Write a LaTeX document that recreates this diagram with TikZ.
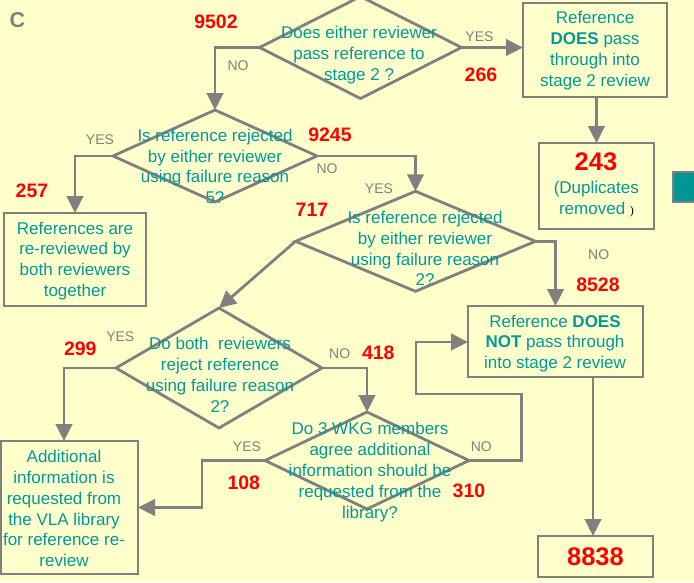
\documentclass[tikz,border=0pt]{standalone}
\usepackage{fontspec}
\setmainfont{Liberation Sans}
\newfontfamily\seriffam{Liberation Serif}
\usetikzlibrary{shapes.geometric,arrows.meta}
\definecolor{bg}{RGB}{255,255,204}
\definecolor{lgray}{RGB}{128,128,128}
\definecolor{tealtxt}{RGB}{0,153,153}
\definecolor{numred}{RGB}{255,0,0}
\definecolor{tealsq}{RGB}{0,150,150}
\begin{document}
\begin{tikzpicture}[x=1pt,y=-1pt,
  dia/.style={diamond, draw=lgray, line width=2.8pt, inner sep=0pt, outer sep=0pt},
  box/.style={rectangle, draw=lgray, line width=2.8pt, inner sep=0pt, outer sep=0pt},
  txt/.style={text=tealtxt, font=\fontsize{17}{20.8}\selectfont, align=center, inner sep=0pt},
  yn/.style={text=lgray, font=\fontsize{14}{16}\selectfont, inner sep=0pt},
  num/.style={text=numred, font=\fontsize{19.5}{22}\selectfont\bfseries, inner sep=0pt},
  bignum/.style={text=numred, font=\fontsize{25.5}{28}\selectfont\bfseries, inner sep=0pt},
  arr/.style={draw=lgray, line width=2.8pt, -{Triangle[length=17pt,width=16.5pt]}}]
\fill[bg] (0,0) rectangle (694,582);
\useasboundingbox (0,0) rectangle (694,582);
\clip (0,0) rectangle (694,582);

% title letter
\node[text=lgray, font=\fontsize{21.5}{24}\selectfont\bfseries, inner sep=0pt] (lc) at (17.5,20.5) {C};

% partially visible teal box at the right edge
\filldraw[fill=tealsq, draw=lgray, line width=1.5pt] (673,172) rectangle (700,202);

% decisions
\node[dia, minimum width=202pt, minimum height=102pt] (d1) at (360.5,47.5) {};
\node[dia, minimum width=204pt, minimum height=92pt]  (d2) at (215,156) {};
\node[dia, minimum width=240pt, minimum height=100pt] (d3) at (415.5,241.3) {};
\node[dia, minimum width=206pt, minimum height=120pt] (d4) at (219,368) {};
\node[dia, minimum width=204pt, minimum height=97pt]  (d5) at (367,460.5) {};

\node[txt] (d1t) at (359,55) {Does either reviewer\\pass reference to\\stage 2 ?};
\node[txt] (d2t) at (215,166.5) {Is reference rejected\\by either reviewer\\using failure reason\\5?};
\node[txt] (d3t) at (425,248.5) {Is reference rejected\\by either reviewer\\using failure reason\\2?};
\node[txt] (d4t) at (220,375) {Do both\ \ reviewers\\reject reference\\using failure reason\\2?};
\node[txt] (d5t) at (370,472) {Do 3 WKG members\\agree additional\\information should be\\requested from the\\library?};

% boxes
\node[box, minimum width=144pt, minimum height=94pt] (b1) at (595,50) {};
\node[box, minimum width=115pt, minimum height=86pt] (b2) at (596.5,186) {};
\node[box, minimum width=142pt, minimum height=93pt] (b3) at (75,259.5) {};
\node[box, minimum width=175pt, minimum height=71pt] (b4) at (555.5,341.5) {};
\node[box, minimum width=115pt, minimum height=41pt] (b5) at (595.5,556.5) {};
\node[box, minimum width=137pt, minimum height=133pt] (b6) at (69.5,507.5) {};

\node[txt] (b1t) at (595,50.7) {Reference\\\textbf{DOES} pass\\through into\\stage 2 review};
\node[bignum] (b2n) at (596,161.7) {243};
\node[txt] (b2t) at (596.3,188.8) {(Duplicates};
\node[txt] (b2u) at (596.5,210) {removed {\color{black}\seriffam\fontsize{12}{12}\selectfont )}};
\node[txt] (b3t) at (75,261) {References are\\re-reviewed by\\both reviewers\\together};
\node[txt] (b4t) at (555,343.5) {Reference \textbf{DOES}\\\textbf{NOT} pass through\\into stage 2 review};
\node[bignum] (b5n) at (595.5,556.5) {8838};
\node[txt] (b6t) at (64,508.6) {Additional\\information is\\requested from\\the VLA library\\for reference re-\\review};

% connectors
\draw[arr] (d1.west) -| (d2.north);
\draw[arr] (d1.east) -- (d1.east -| b1.west);
\draw[arr] (b2.north |- b1.south) -- (b2.north);
\draw[arr] (d2.west) -| (b3.north);
\draw[arr] (d2.east) -| (d3.north);
\draw[arr] (d3.west) -- (d4.north);
\draw[arr] (d3.east) -| (b4.north);
\coordinate (c4) at (64,0);
\draw[arr] (d4.west) -| (c4 |- b6.north);
\draw[arr] (d4.east) -| (d5.north);
\coordinate (c5) at (202,0);
\draw[arr] (d5.west) -| (c5 |- b6.east) -- (b6.east);
\coordinate (l1) at (521.7,394);
\coordinate (l2) at (416,342);
\draw[arr] (d5.east) -| (l1) -| (l2) -- (l2 -| b4.west);
\draw[arr] ([xshift=-2.5pt]b5.north |- b4.south) -- ([xshift=-2.5pt]b5.north);

% YES / NO labels
\node[yn] (y1) at (479.5,37) {YES};
\node[yn] (n1) at (238,66) {NO};
\node[yn] (y2) at (100,140) {YES};
\node[yn] (n2) at (327,169) {NO};
\node[yn] (y3) at (379,188.7) {YES};
\node[yn] (n3) at (598.7,255) {NO};
\node[yn] (y4) at (120.3,336.3) {YES};
\node[yn] (n4) at (339.7,353.3) {NO};
\node[yn] (y5) at (247,447) {YES};
\node[yn] (n5) at (481.3,447) {NO};

% counts
\node[num] (k9502) at (216,21.7) {9502};
\node[num] (k266) at (481,75) {266};
\node[num] (k9245) at (330,135) {9245};
\node[num] (k257) at (32,191.2) {257};
\node[num] (k717) at (312,209.3) {717};
\node[num] (k8528) at (598,285) {8528};
\node[num] (k299) at (80.3,348.7) {299};
\node[num] (k418) at (378.3,353) {418};
\node[num] (k108) at (243.8,483) {108};
\node[num] (k310) at (469,491.2) {310};
\end{tikzpicture}
\end{document}
